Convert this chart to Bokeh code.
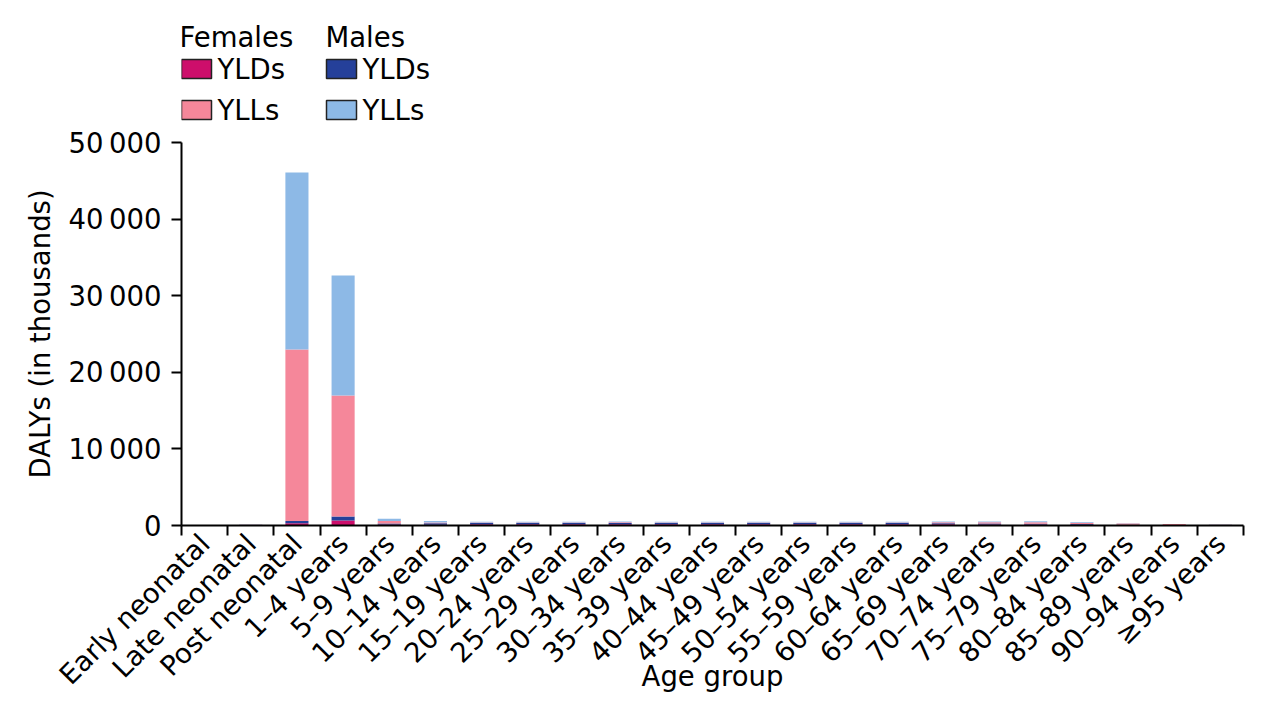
import numpy as np
from bokeh.plotting import figure
from bokeh.models import ColumnDataSource, Range1d, FixedTicker, Title
from bokeh.embed import file_html
from bokeh.resources import INLINE
from bokeh.core.properties import value

age_groups = ["Early neonatal", "Late neonatal", "Post neonatal", "1–4 years", "5–9 years",
              "10–14 years", "15–19 years", "20–24 years", "25–29 years", "30–34 years",
              "35–39 years", "40–44 years", "45–49 years", "50–54 years", "55–59 years",
              "60–64 years", "65–69 years", "70–74 years", "75–79 years", "80–84 years",
              "85–89 years", "90–94 years", "≥95 years"]

female_ylds = [5, 20, 300, 650, 120, 110, 150, 150, 150, 150, 150, 150, 150, 150, 150, 150,
               150, 140, 130, 110, 70, 40, 20]
male_ylds = [5, 30, 300, 520, 130, 170, 190, 190, 190, 190, 190, 190, 190, 190, 190, 180,
             140, 120, 100, 80, 40, 20, 10]
female_ylls = [10, 40, 22390, 15800, 330, 120, 50, 50, 50, 80, 60, 60, 60, 60, 60, 70,
               120, 160, 200, 180, 140, 120, 80]
male_ylls = [10, 50, 23100, 15660, 290, 200, 100, 100, 100, 110, 90, 90, 90, 90, 90, 90,
             100, 100, 110, 90, 50, 30, 10]

y_ticks = [0, 10000, 20000, 30000, 40000, 50000]
y_tick_labels = ["0", "10\u2009000", "20\u2009000", "30\u2009000", "40\u2009000", "50\u2009000"]

series_keys = ["f_yld", "m_yld", "f_yll", "m_yll"]
colors = ["#cd0e6b", "#25409a", "#f5879a", "#8db9e6"]
legend_headers = ["Females", "Males"]
legend_items = ["YLDs", "YLLs"]

FONT = "DejaVu Sans"
FS = "27.5px"

# layout (page pixels)
FRAME_L, FRAME_R = 181, 1243
FRAME_TOP, AXIS_TOP, FRAME_BOT = 12, 142, 525
Y_AXIS_MAX = 50000

n = len(age_groups)
cat_w = (FRAME_R - FRAME_L) / n
y_per_px = Y_AXIS_MAX / (FRAME_BOT - AXIS_TOP)
y_max = (FRAME_BOT - FRAME_TOP) * y_per_px


def dx(px):
    return (px - FRAME_L) / cat_w


def dy(py):
    return (FRAME_BOT - py) * y_per_px


centers = [i + 0.5 for i in range(n)]
src = ColumnDataSource(dict(x=centers, f_yld=female_ylds, m_yld=male_ylds,
                            f_yll=female_ylls, m_yll=male_ylls))

p = figure(frame_width=FRAME_R - FRAME_L, frame_height=FRAME_BOT - FRAME_TOP,
           x_range=Range1d(0, n), y_range=Range1d(0, y_max),
           output_backend="svg", toolbar_location=None,
           min_border_left=FRAME_L, min_border_right=1269 - FRAME_R,
           min_border_top=FRAME_TOP, min_border_bottom=180)
p.outline_line_color = None
p.grid.visible = False

p.vbar_stack(series_keys, x="x", width=0.5, source=src, fill_color=colors, line_color=None)

for ax in (p.xaxis[0], p.yaxis[0]):
    ax.axis_line_width = 2
    ax.axis_line_color = "black"
    ax.major_label_text_font = FONT
    ax.major_label_text_font_size = FS
    ax.major_label_text_color = "black"
    ax.axis_label_text_font = FONT
    ax.axis_label_text_font_size = FS
    ax.axis_label_text_font_style = "normal"
    ax.axis_label_text_color = "black"

xa = p.xaxis[0]
xa.ticker = FixedTicker(ticks=centers, minor_ticks=list(range(n + 1)))
xa.major_label_overrides = {c: lab for c, lab in zip(centers, age_groups)}
xa.major_label_orientation = np.pi / 4
xa.major_tick_out = 0
xa.major_tick_in = 0
xa.minor_tick_out = 10
xa.minor_tick_in = 0
xa.minor_tick_line_width = 2
xa.minor_tick_line_color = "black"
xa.major_label_standoff = 3
xa.axis_label = "Age group"
xa.axis_label_standoff = -45

ya = p.yaxis[0]
ya.bounds = (0, Y_AXIS_MAX)
ya.ticker = FixedTicker(ticks=y_ticks, minor_ticks=[])
ya.major_label_overrides = {t: lab for t, lab in zip(y_ticks, y_tick_labels)}
ya.major_tick_out = 10
ya.major_tick_in = 0
ya.major_tick_line_width = 2
ya.minor_tick_line_color = None
ya.major_label_standoff = 10

# y-axis title, centred on the axis (not on the whole frame)
ytitle = Title(text="DALYs (in thousands)", align="left", offset=47,
               text_font=FONT, text_font_size=FS, text_font_style="normal",
               text_color="black", standoff=19)
p.add_layout(ytitle, "left")

# legend drawn in the space above the y axis
header_px = [179, 325]
patch_px = [181, 326]
row_py = [68.5, 109.5]
patch_w, patch_h = 30, 19

p.text(x=[dx(v) for v in header_px], y=[dy(36)] * 2, text=legend_headers,
       text_font=value(FONT), text_font_size=FS, text_baseline="middle", text_color="black")
ll, lr, lt, lb, lc, tx, ty, tt = [], [], [], [], [], [], [], []
for ci, cx in enumerate(patch_px):
    for ri, ry in enumerate(row_py):
        ll.append(dx(cx)); lr.append(dx(cx + patch_w))
        lt.append(dy(ry - patch_h / 2)); lb.append(dy(ry + patch_h / 2))
        lc.append(colors[ci + 2 * ri])
        tx.append(dx(cx + patch_w + 6)); ty.append(dy(ry)); tt.append(legend_items[ri])
p.quad(left=ll, right=lr, top=lt, bottom=lb, fill_color=lc, line_color="#222222", line_width=1.5)
p.text(x=tx, y=ty, text=tt, text_font=value(FONT), text_font_size=FS,
       text_baseline="middle", text_color="black")

open("out.html", "w").write(file_html(p, INLINE))
